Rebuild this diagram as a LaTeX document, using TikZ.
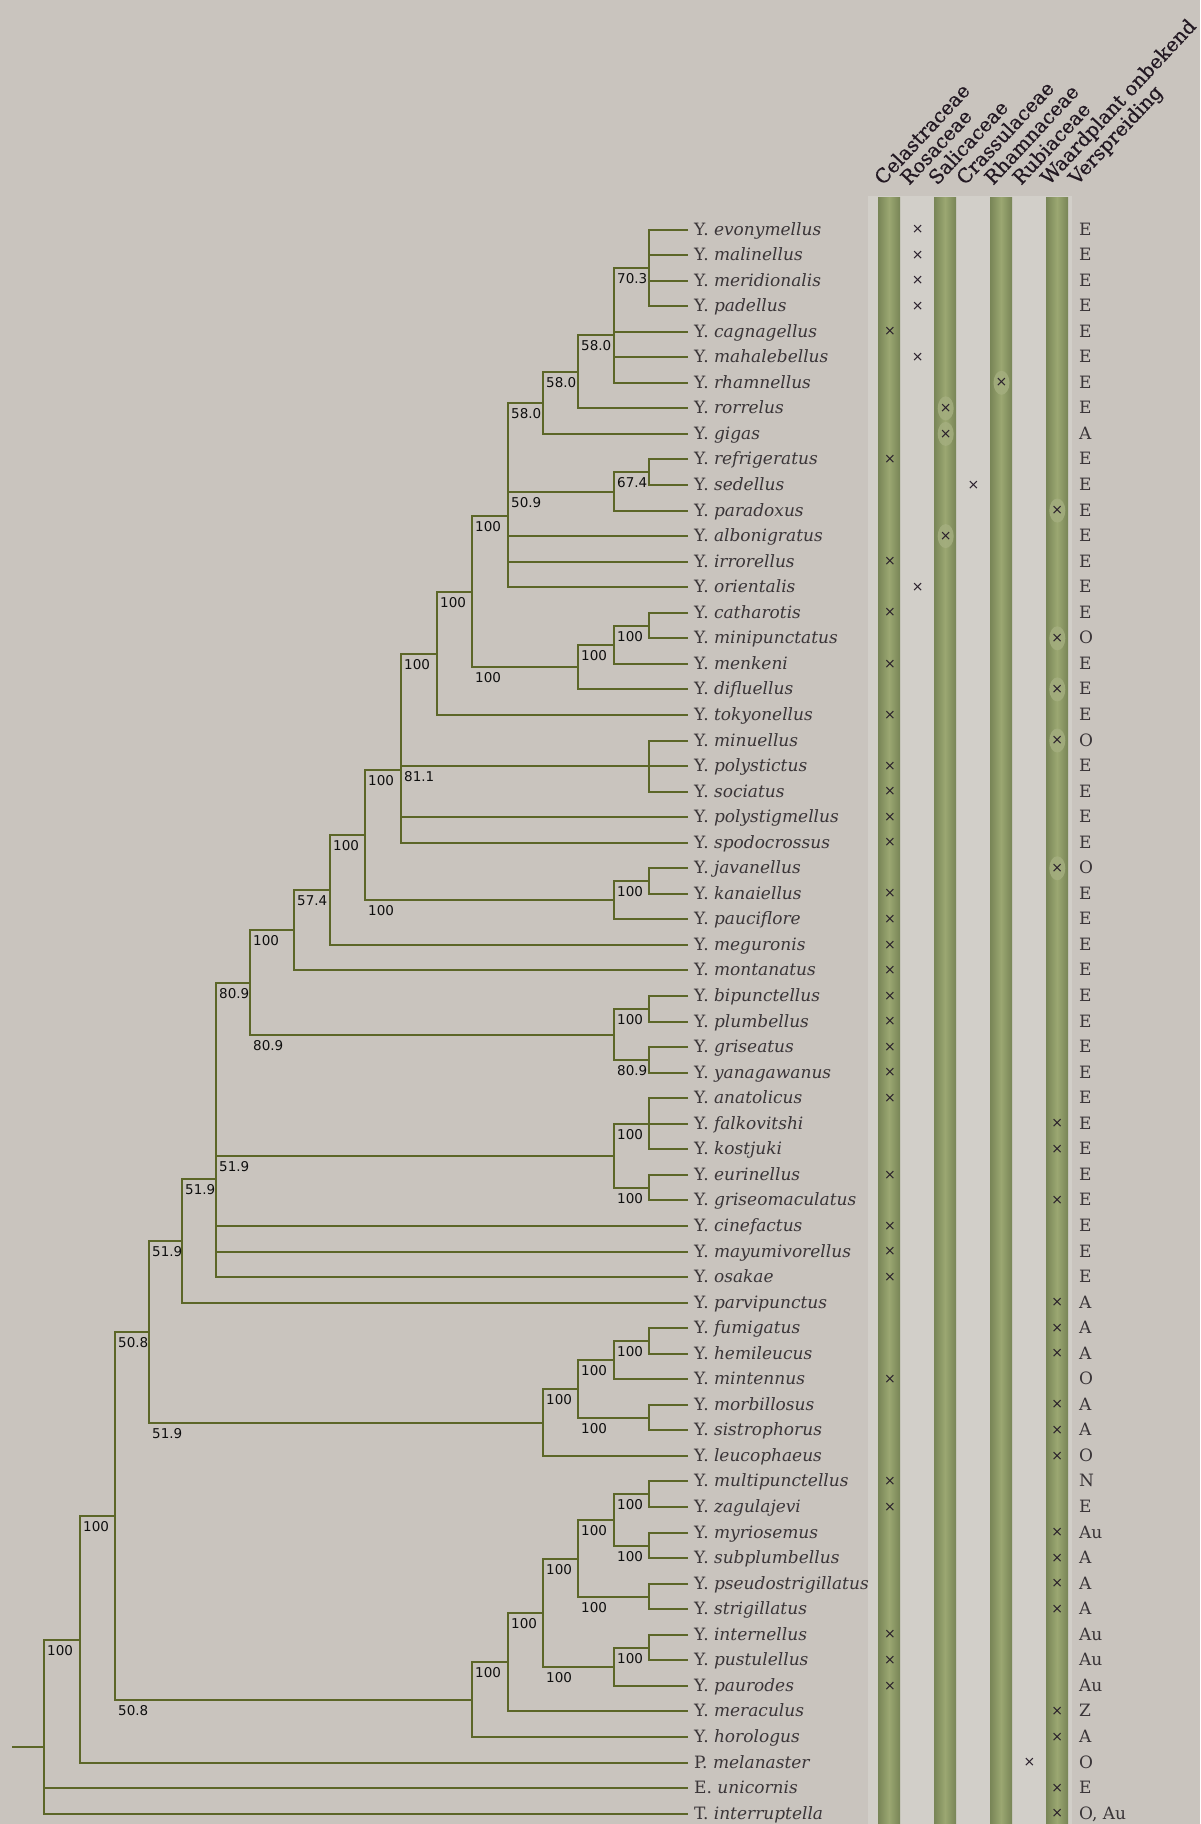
\documentclass[tikz,border=0pt]{standalone}
\usepackage{fontspec}
\setmainfont{DejaVu Serif}
\newfontfamily\supfont{DejaVu Sans}
\newfontface\hdrfont{DejaVu Serif}[FakeBold=0.7]
\definecolor{bgc}{RGB}{201,196,190}
\definecolor{lightc}{RGB}{210,207,201}
\definecolor{treec}{RGB}{92,102,40}
\definecolor{taxc}{RGB}{58,53,56}
\definecolor{supc}{RGB}{15,15,15}
\definecolor{hdrc}{RGB}{35,25,35}
\definecolor{xc}{RGB}{40,30,42}
\definecolor{barD}{RGB}{120,133,86}
\definecolor{barL}{RGB}{155,167,114}
\definecolor{ovalc}{RGB}{165,175,128}
\newcommand\R[1]{round(229.5+25.55*#1)}
\newcommand\sety[2]{\pgfmathsetmacro#1{round(#2)}}
\newcommand\clade[3]{\draw[tree] (#2) -- (#1 |- #2) -- (#1 |- #3) -- (#3);}
\newcommand\midbr[2]{\draw[tree] (#1 |- #2) -- (#2);}
\newcommand\bsl[3]{\path (#1 |- #2) ++(3,11) node[suplab] (s#2) {#3};}
\begin{document}
\begin{tikzpicture}[x=1pt,y=-1pt,
  tree/.style={draw=treec, line width=2.4pt, line join=miter},
  taxon/.style={anchor=base west, inner sep=0, text=taxc, font=\fontsize{17}{17}\selectfont},
  suplab/.style={anchor=west, inner sep=0, text=supc, font=\supfont\fontsize{13.5}{13.5}\selectfont},
  hdr/.style={anchor=base west, inner sep=0, rotate=47, text=hdrc, font=\hdrfont\fontsize{19.5}{19.5}\selectfont},
  xmark/.style={inner sep=0, text=xc, font=\supfont\fontsize{14}{14}\selectfont},
  dist/.style={anchor=base west, inner sep=0, text=taxc, font=\fontsize{17}{17}\selectfont},
  oval/.style={fill=ovalc, opacity=0.8}
]
\useasboundingbox (0,0) rectangle (1200,1824);
\fill[bgc] (0,0) rectangle (1200,1824);
% light strip behind columns
\fill[lightc] (868,196) rectangle (1072,1824);
% bars
\foreach \a/\b in {878/900, 934/956, 990/1012, 1046/1068}
  \shade[left color=barD, right color=barD, middle color=barL] (\a,197) rectangle (\b,1824);
% ovals
\foreach \r/\c in {6/5,7/3,8/3,11/7,12/3,16/7,18/7,20/7,25/7}
  \fill[oval] ({862+27.9*\c},{229.5+25.55*\r}) ellipse (8 and 12);
% headers
\node[hdr] (h1) at (883,186) {Celastraceae};
\node[hdr] (h2) at (909,186) {Rosaceae};
\node[hdr] (h3) at (937,186) {Salicaceae};
\node[hdr] (h4) at (965,186) {Crassulaceae};
\node[hdr] (h5) at (993,186) {Rhamnaceae};
\node[hdr] (h6) at (1021,186) {Rubiaceae};
\node[hdr] (h7) at (1049,186) {Waardplant onbekend};
\node[hdr] (h8) at (1077,186) {Verspreiding};
% leaves
\foreach \i/\g/\s in {0/Y./evonymellus, 1/Y./malinellus, 2/Y./meridionalis, 3/Y./padellus, 4/Y./cagnagellus, 5/Y./mahalebellus, 6/Y./rhamnellus, 7/Y./rorrelus, 8/Y./gigas, 9/Y./refrigeratus, 10/Y./sedellus, 11/Y./paradoxus, 12/Y./albonigratus, 13/Y./irrorellus, 14/Y./orientalis, 15/Y./catharotis, 16/Y./minipunctatus, 17/Y./menkeni, 18/Y./difluellus, 19/Y./tokyonellus, 20/Y./minuellus, 21/Y./polystictus, 22/Y./sociatus, 23/Y./polystigmellus, 24/Y./spodocrossus, 25/Y./javanellus, 26/Y./kanaiellus, 27/Y./pauciflore, 28/Y./meguronis, 29/Y./montanatus, 30/Y./bipunctellus, 31/Y./plumbellus, 32/Y./griseatus, 33/Y./yanagawanus, 34/Y./anatolicus, 35/Y./falkovitshi, 36/Y./kostjuki, 37/Y./eurinellus, 38/Y./griseomaculatus, 39/Y./cinefactus, 40/Y./mayumivorellus, 41/Y./osakae, 42/Y./parvipunctus, 43/Y./fumigatus, 44/Y./hemileucus, 45/Y./mintennus, 46/Y./morbillosus, 47/Y./sistrophorus, 48/Y./leucophaeus, 49/Y./multipunctellus, 50/Y./zagulajevi, 51/Y./myriosemus, 52/Y./subplumbellus, 53/Y./pseudostrigillatus, 54/Y./strigillatus, 55/Y./internellus, 56/Y./pustulellus, 57/Y./paurodes, 58/Y./meraculus, 59/Y./horologus, 60/P./melanaster, 61/E./unicornis, 62/T./interruptella}
{
  \pgfmathsetmacro\yy{round(229.5+25.55*\i)}
  \coordinate (l\i) at (688,\yy);
  \node[taxon] (t\i) at (694,\yy+5.5) {\g\ \textit{\s}};
}
% internal node heights (mean of children)
\sety\yA{(\R{0}+\R{1}+\R{2}+\R{3})/4}
\sety\yB{(\yA+\R{4}+\R{5}+\R{6})/4}
\sety\yC{(\yB+\R{7})/2}
\sety\yD{(\yC+\R{8})/2}
\sety\yF{(\R{9}+\R{10})/2}
\sety\yG{(\yF+\R{11})/2}
\sety\yH{(\yD+\yG+\R{12}+\R{13}+\R{14})/5}
\sety\yI{(\R{15}+\R{16})/2}
\sety\yJ{(\yI+\R{17})/2}
\sety\yK{(\yJ+\R{18})/2}
\sety\yL{(\yH+\yK)/2}
\sety\yM{(\yL+\R{19})/2}
\sety\yP{(\R{20}+\R{21}+\R{22})/3}
\sety\yN{(\yM+\yP+\R{23}+\R{24})/4}
\sety\yS{(\R{25}+\R{26})/2}
\sety\yR{(\yS+\R{27})/2}
\sety\yQ{(\yN+\yR)/2}
\sety\yT{(\yQ+\R{28})/2}
\sety\yU{(\yT+\R{29})/2}
\sety\yX{(\R{30}+\R{31})/2}
\sety\yY{(\R{32}+\R{33})/2}
\sety\yW{(\yX+\yY)/2}
\sety\yV{(\yU+\yW)/2}
\sety\yAB{(\R{34}+\R{35}+\R{36})/3}
\sety\yAC{(\R{37}+\R{38})/2}
\sety\yAA{(\yAB+\yAC)/2}
\sety\yZ{(\yV+\yAA+\R{39}+\R{40}+\R{41})/5}
\sety\yAD{(\yZ+\R{42})/2}
\sety\yAJ{(\R{43}+\R{44})/2}
\sety\yAH{(\yAJ+\R{45})/2}
\sety\yAI{(\R{46}+\R{47})/2}
\sety\yAG{(\yAH+\yAI)/2}
\sety\yAF{(\yAG+\R{48})/2}
\sety\yAE{(\yAD+\yAF)/2}
\sety\yAS{(\R{49}+\R{50})/2}
\sety\yAT{(\R{51}+\R{52})/2}
\sety\yAQ{(\yAS+\yAT)/2}
\sety\yAR{(\R{53}+\R{54})/2}
\sety\yAO{(\yAQ+\yAR)/2}
\sety\yAW{(\R{55}+\R{56})/2}
\sety\yAX{(\yAW+\R{57})/2}
\sety\yAN{(\yAO+\yAX)/2}
\sety\yAM{(\yAN+\R{58})/2}
\sety\yAL{(\yAM+\R{59})/2}
\sety\yAK{(\yAE+\yAL)/2}
\sety\yAV{(\yAK+\R{60})/2}
\sety\yRoot{(\yAV+\R{61}+\R{62})/3}
\coordinate (nA) at (649,\yA);
\coordinate (nB) at (614,\yB);
\coordinate (nC) at (578,\yC);
\coordinate (nD) at (543,\yD);
\coordinate (nF) at (649,\yF);
\coordinate (nG) at (614,\yG);
\coordinate (nH) at (508,\yH);
\coordinate (nI) at (649,\yI);
\coordinate (nJ) at (614,\yJ);
\coordinate (nK) at (578,\yK);
\coordinate (nL) at (472,\yL);
\coordinate (nM) at (437,\yM);
\coordinate (nP) at (649,\yP);
\coordinate (nN) at (401,\yN);
\coordinate (nS) at (649,\yS);
\coordinate (nR) at (614,\yR);
\coordinate (nQ) at (365,\yQ);
\coordinate (nT) at (330,\yT);
\coordinate (nU) at (294,\yU);
\coordinate (nX) at (649,\yX);
\coordinate (nY) at (649,\yY);
\coordinate (nW) at (614,\yW);
\coordinate (nV) at (250,\yV);
\coordinate (nAB) at (649,\yAB);
\coordinate (nAC) at (649,\yAC);
\coordinate (nAA) at (614,\yAA);
\coordinate (nZ) at (216,\yZ);
\coordinate (nAD) at (182,\yAD);
\coordinate (nAJ) at (649,\yAJ);
\coordinate (nAH) at (614,\yAH);
\coordinate (nAI) at (649,\yAI);
\coordinate (nAG) at (578,\yAG);
\coordinate (nAF) at (543,\yAF);
\coordinate (nAE) at (149,\yAE);
\coordinate (nAS) at (649,\yAS);
\coordinate (nAT) at (649,\yAT);
\coordinate (nAQ) at (614,\yAQ);
\coordinate (nAR) at (649,\yAR);
\coordinate (nAO) at (578,\yAO);
\coordinate (nAW) at (649,\yAW);
\coordinate (nAX) at (614,\yAX);
\coordinate (nAN) at (543,\yAN);
\coordinate (nAM) at (508,\yAM);
\coordinate (nAL) at (472,\yAL);
\coordinate (nAK) at (115,\yAK);
\coordinate (nAV) at (80,\yAV);
\coordinate (nRoot) at (44,\yRoot);
\coordinate (stub) at (12,\yRoot);
% branches
\clade{nA}{l0}{l3} \midbr{nA}{l1} \midbr{nA}{l2}
\clade{nB}{nA}{l6} \midbr{nB}{l4} \midbr{nB}{l5}
\clade{nC}{nB}{l7}
\clade{nD}{nC}{l8}
\clade{nF}{l9}{l10}
\clade{nG}{nF}{l11}
\clade{nH}{nD}{l14} \midbr{nH}{nG} \midbr{nH}{l12} \midbr{nH}{l13}
\clade{nI}{l15}{l16}
\clade{nJ}{nI}{l17}
\clade{nK}{nJ}{l18}
\clade{nL}{nH}{nK}
\clade{nM}{nL}{l19}
\clade{nP}{l20}{l22} \midbr{nP}{l21}
\clade{nN}{nM}{l24} \midbr{nN}{nP} \midbr{nN}{l23}
\clade{nS}{l25}{l26}
\clade{nR}{nS}{l27}
\clade{nQ}{nN}{nR}
\clade{nT}{nQ}{l28}
\clade{nU}{nT}{l29}
\clade{nX}{l30}{l31}
\clade{nY}{l32}{l33}
\clade{nW}{nX}{nY}
\clade{nV}{nU}{nW}
\clade{nAB}{l34}{l36} \midbr{nAB}{l35}
\clade{nAC}{l37}{l38}
\clade{nAA}{nAB}{nAC}
\clade{nZ}{nV}{l41} \midbr{nZ}{nAA} \midbr{nZ}{l39} \midbr{nZ}{l40}
\clade{nAD}{nZ}{l42}
\clade{nAJ}{l43}{l44}
\clade{nAH}{nAJ}{l45}
\clade{nAI}{l46}{l47}
\clade{nAG}{nAH}{nAI}
\clade{nAF}{nAG}{l48}
\clade{nAE}{nAD}{nAF}
\clade{nAS}{l49}{l50}
\clade{nAT}{l51}{l52}
\clade{nAQ}{nAS}{nAT}
\clade{nAR}{l53}{l54}
\clade{nAO}{nAQ}{nAR}
\clade{nAW}{l55}{l56}
\clade{nAX}{nAW}{l57}
\clade{nAN}{nAO}{nAX}
\clade{nAM}{nAN}{l58}
\clade{nAL}{nAM}{l59}
\clade{nAK}{nAE}{nAL}
\clade{nAV}{nAK}{l60}
\clade{nRoot}{nAV}{l62} \midbr{nRoot}{l61}
\draw[tree] (nRoot) -- (stub);
% support values
\bsl{nB}{nA}{70.3}
\bsl{nC}{nB}{58.0}
\bsl{nD}{nC}{58.0}
\bsl{nH}{nD}{58.0}
\bsl{nG}{nF}{67.4}
\bsl{nH}{nG}{50.9}
\bsl{nL}{nH}{100}
\bsl{nJ}{nI}{100}
\bsl{nK}{nJ}{100}
\bsl{nL}{nK}{100}
\bsl{nM}{nL}{100}
\bsl{nN}{nM}{100}
\bsl{nN}{nP}{81.1}
\bsl{nQ}{nN}{100}
\bsl{nR}{nS}{100}
\bsl{nQ}{nR}{100}
\bsl{nT}{nQ}{100}
\bsl{nU}{nT}{57.4}
\bsl{nV}{nU}{100}
\bsl{nW}{nX}{100}
\bsl{nW}{nY}{80.9}
\bsl{nV}{nW}{80.9}
\bsl{nZ}{nV}{80.9}
\bsl{nAA}{nAB}{100}
\bsl{nAA}{nAC}{100}
\bsl{nZ}{nAA}{51.9}
\bsl{nAD}{nZ}{51.9}
\bsl{nAE}{nAD}{51.9}
\bsl{nAH}{nAJ}{100}
\bsl{nAG}{nAH}{100}
\bsl{nAG}{nAI}{100}
\bsl{nAF}{nAG}{100}
\bsl{nAE}{nAF}{51.9}
\bsl{nAK}{nAE}{50.8}
\bsl{nAQ}{nAS}{100}
\bsl{nAQ}{nAT}{100}
\bsl{nAO}{nAQ}{100}
\bsl{nAO}{nAR}{100}
\bsl{nAN}{nAO}{100}
\bsl{nAX}{nAW}{100}
\bsl{nAN}{nAX}{100}
\bsl{nAM}{nAN}{100}
\bsl{nAL}{nAM}{100}
\bsl{nAK}{nAL}{50.8}
\bsl{nAV}{nAK}{100}
\bsl{nRoot}{nAV}{100}
% host plant marks
\foreach \r/\c in {0/2,1/2,2/2,3/2,4/1,5/2,6/5,7/3,8/3,9/1,10/4,11/7,12/3,13/1,14/2,15/1,16/7,17/1,18/7,19/1,20/7,21/1,22/1,23/1,24/1,25/7,26/1,27/1,28/1,29/1,30/1,31/1,32/1,33/1,34/1,35/7,36/7,37/1,38/7,39/1,40/1,41/1,42/7,43/7,44/7,45/1,46/7,47/7,48/7,49/1,50/1,51/7,52/7,53/7,54/7,55/1,56/1,57/1,58/7,59/7,60/6,61/7,62/7}
  \node[xmark] (m\r) at ({862+27.9*\c},{229.5+25.55*\r}) {×};
% distribution
\foreach \r/\t in {0/E,1/E,2/E,3/E,4/E,5/E,6/E,7/E,8/A,9/E,10/E,11/E,12/E,13/E,14/E,15/E,16/O,17/E,18/E,19/E,20/O,21/E,22/E,23/E,24/E,25/O,26/E,27/E,28/E,29/E,30/E,31/E,32/E,33/E,34/E,35/E,36/E,37/E,38/E,39/E,40/E,41/E,42/A,43/A,44/A,45/O,46/A,47/A,48/O,49/N,50/E,51/Au,52/A,53/A,54/A,55/Au,56/Au,57/Au,58/Z,59/A,60/O,61/E,62/{O, Au}}
  \node[dist] (v\r) at (1079,{229.5+25.55*\r+5.5}) {\t};
\end{tikzpicture}
\end{document}
